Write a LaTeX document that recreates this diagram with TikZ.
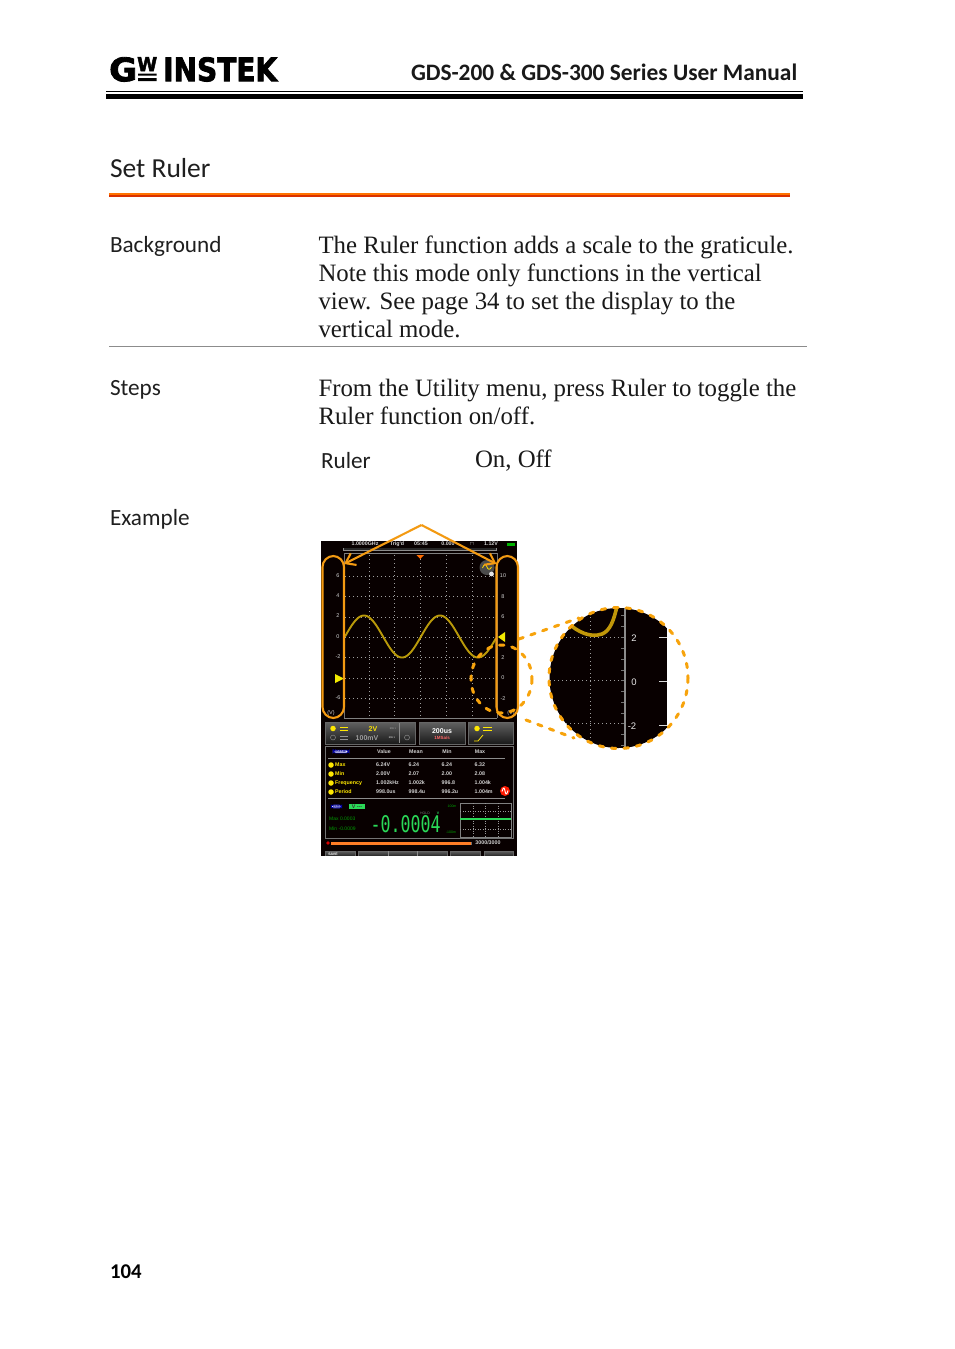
\documentclass[tikz,border=0pt]{standalone}
\usepackage{fontspec}
\setmainfont{Liberation Serif}
\newfontfamily\gillfont{Carlito}
\newfontfamily\gillbold[FakeStretch=0.99]{Carlito Bold}
\newfontfamily\logofont[FakeBold=2.5]{DejaVu Sans Bold}
\newfontfamily\scrfont{Liberation Sans}
\newfontfamily\bodyfont[FakeStretch=0.993]{Liberation Serif}
\newfontfamily\segfont{DejaVu Sans Mono}
\usetikzlibrary{arrows.meta,calc}
\definecolor{callout}{HTML}{F39A12}
\definecolor{dashor}{HTML}{F7A30C}
\definecolor{wave}{HTML}{B99A0A}
\definecolor{scrgreen}{HTML}{2AD957}
\definecolor{mkyellow}{HTML}{F2EA00}
\tikzset{x=1pt,y=-1pt,
 txt/.style={anchor=base west,inner sep=0pt,outer sep=0pt},
 body/.style={txt,font=\bodyfont\fontsize{25}{28}\selectfont,text=black!90},
 label/.style={txt,font=\gillfont\fontsize{23.2}{28}\selectfont,text=black!88},
 scr/.style={inner sep=0pt,font=\scrfont\fontsize{5}{6}\selectfont,text=white!82!black},
 scrb/.style={scr,font=\scrfont\bfseries\fontsize{5.3}{6}\selectfont},
 yel/.style={scrb,anchor=west,text=yellow!90!orange},
 axn/.style={scr,font=\scrfont\fontsize{5.5}{6}\selectfont},
 magn/.style={scr,font=\scrfont\fontsize{9.5}{10}\selectfont,text=white!90!black},
 hl/.style={draw=callout,line width=2.1pt,rounded corners=11pt},
 ptr/.style={draw=callout,line width=2.1pt,-{Straight Barb[length=9pt,width=13pt]}},
 dashline/.style={draw=dashor,line width=3pt,line cap=round,dash pattern=on 4.5pt off 8pt},
 griddot/.style={black!38,line width=.6pt,dash pattern=on .8pt off 3.2pt},
 btn/.style={draw=black!60,line width=.6pt,top color=black!62,bottom color=black!90},
 yeldot/.style={circle,fill=yellow!90!orange,minimum size=5.5pt,inner sep=0pt},
}
\begin{document}
\begin{tikzpicture}
\useasboundingbox (0,0) rectangle (954,1349);
\fill[white] (0,0) rectangle (954,1349);
% ---------- header
\node[inner sep=0pt,anchor=north west] (logoG) at (109,57) {\resizebox{28pt}{24pt}{\logofont G}};
\node[inner sep=0pt,anchor=north west] (logoW) at (137,57) {\resizebox{20pt}{14pt}{\logofont W}};
\fill[black] (138,73.5) rectangle (156.5,75.5) (138,78) rectangle (156.5,81);
\node[inner sep=0pt,anchor=north west] (logoI) at (163,57) {\resizebox{114pt}{24pt}{\logofont INSTEK}};
\node[txt,font=\gillbold\fontsize{23.6}{26}\selectfont,text=black!90] (title) at (411,80.5) {GDS-200 \& GDS-300 Series User Manual};
\fill[black] (106,91) rectangle (803,92.4);
\fill[black] (106,94.2) rectangle (803,99);
% ---------- section
\node[txt,font=\gillfont\fontsize{27.5}{30}\selectfont,text=black!88] (sec) at (110,177.5) {Set Ruler};
\fill[orange!90!red] (109,193) rectangle (790,195.4);
\fill[red!55!orange!85!black] (109,195.4) rectangle (790,197);
\node[label] (lbg) at (110,252) {Background};
\node[body] (b1) at (318.5,253) {The Ruler function adds a scale to the graticule.};
\node[body] (b2) at (318.5,281) {Note this mode only functions in the vertical};
\node[body] (b3) at (318.5,309) {view. See page 34 to set the display to the};
\node[body] (b4) at (318.5,337) {vertical mode.};
\fill[black!45] (109,346.4) rectangle (807,347.2);
\node[label] (lst) at (110,395) {Steps};
\node[body] (s1) at (318.5,396) {From the Utility menu, press Ruler to toggle the};
\node[body] (s2) at (318.5,424) {Ruler function on/off.};
\node[label] (lru) at (321,468) {Ruler};
\node[body] (onoff) at (475,467) {On, Off};
\node[label] (lex) at (110,525) {Example};
\node[txt,font=\gillbold\fontsize{21}{24}\selectfont,text=black] (pg) at (110,1278.5) {104};
% ---------- oscilloscope screen
\fill[black!97!red] (321,541) rectangle (517,856);
\node[scrb] (t1) at (365,544) {1.0000GHz};
\node[scrb] (t2) at (397,544) {Trig'd};
\node[scrb] (t3) at (421,544) {05:45};
\node[scrb] (t4) at (448,544) {0.000};
\node[scrb] (t5) at (472,544) {$\sqcap$};
\node[scrb] (t6) at (491,544) {1.12V};
\fill[green!70!black] (507,542.5) rectangle (515,545.5);
\fill[black!45] (343,547.5) rectangle (497,550.5);
\fill[black!85] (344,548.4) rectangle (496,549.6);
% grid
\foreach \yy in {576,596.5,617,637,657.5,678,698}
  \draw[griddot] (345,\yy) -- (496,\yy);
\foreach \xx in {369,394.7,420.4,446,471.8}
  \draw[griddot] (\xx,555) -- (\xx,717);
\draw[black!50,line width=.7pt] (344,553.5) -- (497,553.5) (344,718) -- (497,718);
\draw[black!55,line width=1pt] (344,553) -- (344,718) (497,553) -- (497,718);
% axis labels
\foreach \t/\yy [count=\i] in {6/576,4/596,2/616,0/637,-2/657,-6/698}
  \node[axn] (al\i) at (338,\yy) {\t};
\foreach \t/\yy [count=\i] in {10/576,8/597,6/617,2/658,0/678,-2/699}
  \node[axn] (ar\i) at (503,\yy) {\t};
\node[axn] (vl) at (331,713.5) {(V)};
\node[axn] (vr) at (511,713.5) {(V)};
% waveform
\draw[wave,line width=1.9pt,domain=0:151,samples=120,smooth,variable=\u] plot ({345+\u},{636.5-21*sin(4.7368*\u)});
% markers
\fill[orange!85!red] (416.5,555) -- (424,555) -- (420.3,559) -- cycle;
\fill[mkyellow] (335,674) -- (335,683) -- (344,678.5) -- cycle;
\fill[mkyellow] (498,637) -- (505,632) -- (505,642) -- cycle;
% icon
\fill[black!70] (487,567.5) circle (7.5);
\draw[yellow!80!orange,line width=.8pt] (482.5,568) .. controls (484.5,563) and (486,564) .. (487,567) .. controls (488,570) and (490,570) .. (491.5,567);
\fill[white!90!black] (491.5,574) circle (2.4);
% ---------- lower panels
\draw[btn] (325,722) rectangle (415,744);
\draw[black!45,line width=.6pt] (399,723) -- (399,743);
\node[yeldot] (cA) at (333,728.5) {};
\draw[yellow!90!orange,line width=.9pt] (340,727.5) -- (348,727.5) (340,730) -- (348,730);
\node[scrb,text=yellow!90!orange,font=\scrfont\bfseries\fontsize{7}{7}\selectfont] (v2) at (373,729) {2V};
\node[scrb,text=black!45,font=\scrfont\bfseries\fontsize{2.5}{3}\selectfont] (bw1) at (393,729) {BW 1};
\node[circle,draw=black!40,minimum size=5pt,inner sep=0pt] (cB) at (333,737.5) {};
\draw[black!42,line width=.9pt] (340,736.5) -- (348,736.5) (340,739) -- (348,739);
\node[scrb,text=black!38,font=\scrfont\bfseries\fontsize{7}{7}\selectfont] (v100) at (367,738) {100mV};
\node[scrb,text=black!30,font=\scrfont\bfseries\fontsize{2.5}{3}\selectfont] (bw2) at (392,738) {BW 1};
\node[circle,draw=black!40,minimum size=5pt,inner sep=0pt] (cC) at (407,737.5) {};
\draw[btn] (419,722) rectangle (465,744);
\node[scrb,text=white,font=\scrfont\bfseries\fontsize{7}{7}\selectfont] (tb) at (442,731) {200us};
\node[scrb,text=red!60!white,font=\scrfont\bfseries\fontsize{4.5}{5}\selectfont] (sr) at (442,738) {1MSa/s};
\draw[btn] (468,722) rectangle (513,744);
\node[yeldot] (cD) at (477,728.5) {};
\draw[yellow!90!orange,line width=.9pt] (483,727.5) -- (492,727.5) (483,730) -- (492,730);
\draw[yellow!85!orange,line width=.8pt] (474,741) -- (478,741) -- (483,735);
\draw[black!55,line width=.7pt] (325,746) rectangle (513,838);
\node[rounded corners=2.5pt,fill=white,draw=blue!70!black,inner sep=1pt,line width=.7pt,scrb,text=blue!60!black,font=\scrfont\bfseries\fontsize{4}{5}\selectfont] (mbadge) at (341,751.5) {Measure};
\foreach \t/\xx [count=\i] in {Value/384,Mean/416,Min/447,Max/480}
  \node[scrb] (h\i) at (\xx,752) {\t};
\draw[black!45,line width=.5pt] (328,758) -- (505,758);
\foreach \t/\yy [count=\i] in {Max/765,Min/774,Frequency/783,Period/792}{
  \node[yeldot] (d\i) at (331,\yy) {};
  \node[yel] (n\i) at (335,\yy) {\t};
}
\foreach \a/\b/\c/\d/\yy [count=\i] in {6.24V/6.24/6.24/6.32/765,2.00V/2.07/2.00/2.08/774,1.002kHz/1.002k/996.8/1.004k/783,998.0us/998.4u/996.2u/1.004m/792}{
  \node[scrb,anchor=west] (ra\i) at (376,\yy) {\a};
  \node[scrb,anchor=west] (rb\i) at (408.5,\yy) {\b};
  \node[scrb,anchor=west] (rc\i) at (441.5,\yy) {\c};
  \node[scrb,anchor=west] (rd\i) at (474.5,\yy) {\d};
}
\fill[red!80!orange] (505,791) circle (5);
\draw[white,line width=.9pt] (502,791.5) .. controls (503.5,786) and (504.5,788) .. (505,791) .. controls (505.5,794) and (506.5,796) .. (508,790.5);
\draw[black!45,line width=.5pt] (328,798) -- (505,798);
\node[rounded corners=2.5pt,fill=white,draw=blue!70!black,inner sep=1pt,line width=.7pt,scrb,text=blue!60!black,font=\scrfont\bfseries\fontsize{4.5}{5}\selectfont] (dbadge) at (336.5,806.5) {DMM};
\node[fill=scrgreen,minimum width=16pt,minimum height=5.5pt,inner sep=0pt,scrb,text=black!80] (vbadge) at (357,806.5) {V ---};
\node[scr,anchor=west,text=green!60!black] (mx) at (329,819) {Max 0.0003};
\node[scr,anchor=west,text=green!60!black] (mn) at (329,829) {Min -0.0009};
\node[inner sep=0pt,text=scrgreen] (big) at (405.5,824) {\resizebox{70pt}{17pt}{\segfont -0.0004}};
\node[scr,text=black!55,font=\scrfont\fontsize{3.5}{4}\selectfont] (hold) at (425,813) {HOLD};
\node[scrb,text=scrgreen,font=\scrfont\bfseries\fontsize{3.5}{4}\selectfont] (vu) at (438,813) {V};
\node[scr,text=green!65!black,font=\scrfont\fontsize{3.5}{4}\selectfont] (mt) at (452,806) {100m};
\node[scr,text=green!65!black,font=\scrfont\fontsize{3.5}{4}\selectfont] (mb) at (451,832) {-100m};
\draw[black!50,line width=.5pt] (460,803) rectangle (511,837);
\draw[black!40,line width=.4pt,dash pattern=on 1pt off 1.5pt] (485.5,803) -- (485.5,837) (460,811) -- (511,811) (460,829) -- (511,829) (473,803) -- (473,837) (498,803) -- (498,837);
\draw[scrgreen,line width=1.2pt] (460,819) -- (511,819);
\fill[red!85!black] (328,843) circle (1.8);
\fill[black!55] (331,841.5) rectangle (472,845);
\fill[orange!80!red!85!white] (331,842) rectangle (471,844.6);
\node[scrb] (cnt) at (488,843) {3000/3000};
\draw[btn] (325,851) rectangle (355,857);
\node[scrb,text=white,font=\scrfont\bfseries\fontsize{3.5}{4}\selectfont] (save) at (333,854.5) {SAVE};
\draw[btn] (358,851) rectangle (447,857);
\draw[black!45,line width=.5pt] (388,851) -- (388,856) (417,851) -- (417,856);
\draw[btn] (450,851) rectangle (480,857);
\draw[btn] (484,851) rectangle (513,857);
\fill[white] (316,856) rectangle (525,860);
% ---------- callouts
\coordinate (lbox) at (344,564);
\coordinate (rbox) at (496.5,564);
\coordinate (apex) at (421.5,525);
\draw[hl] (322.5,556) rectangle (344,718);
\draw[hl] (496.5,556) rectangle (518,718);
\draw[ptr] (apex) -- (lbox);
\draw[ptr] (apex) -- (rbox);
% ---------- magnifier
\coordinate (mag) at (618.5,678);
\begin{scope}
\clip (mag) ellipse [x radius=69,y radius=70];
\fill[black!97!red] (540,600) rectangle (667,755);
\foreach \yy in {637,680,723}
  \draw[griddot] (550,\yy) -- (625,\yy);
\foreach \xx in {590}
  \draw[griddot] (\xx,605) -- (\xx,750);
\foreach \yy in {615,626,637,648,659,670,680,691,702,713,723,734,745}
  \draw[black!55,line width=.7pt] (621,\yy) -- (625,\yy);
\draw[black!45,line width=1.6pt] (625,605) -- (625,752);
\draw[wave!90!orange,line width=3.6pt] (568,623) .. controls (578,632) and (590,638) .. (602,634) .. controls (610,631) and (614,620) .. (617,606);
\draw[white!85!black,line width=.9pt] (659,637) -- (667,637) (659,681) -- (667,681) (659,725) -- (667,725);
\end{scope}
\node[magn] (m2) at (634,638) {2};
\node[magn] (m0) at (634,682) {0};
\node[magn] (mm2) at (632,726) {-2};
\draw[dashline] (mag) ellipse [x radius=69.5,y radius=70.5];
\draw[dashline] (501.5,679) ellipse [x radius=30.5,y radius=34];
\coordinate (zta) at (519,639);
\coordinate (ztb) at (579,618);
\coordinate (zba) at (526,720);
\coordinate (zbb) at (574,738);
\draw[dashline] (zta) -- (ztb);
\draw[dashline] (zba) -- (zbb);
\end{tikzpicture}
\end{document}
